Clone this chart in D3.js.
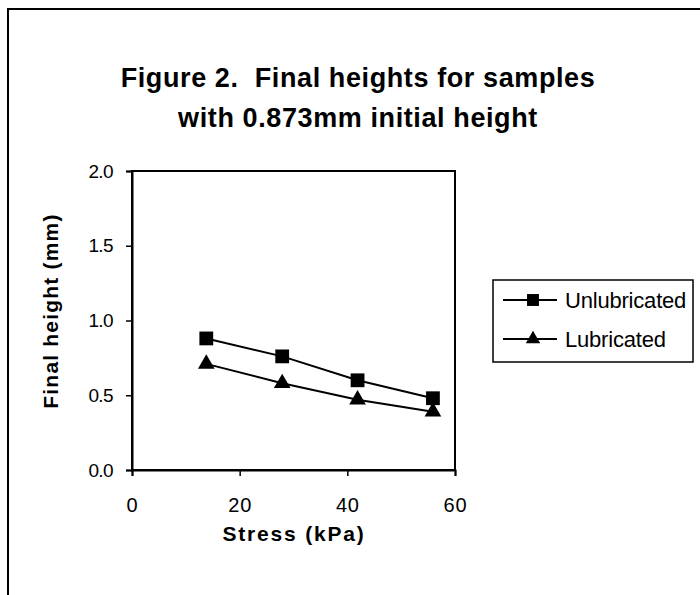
<!DOCTYPE html>
<html>
<head>
<meta charset="utf-8">
<script src="https://cdn.jsdelivr.net/npm/d3@7"></script>
<style>
  html, body { margin: 0; padding: 0; background: #fff; }
  svg { display: block; font-family: "Liberation Sans", Arial, sans-serif; }
  .title { white-space: pre; }
</style>
</head>
<body>
<svg id="chart" width="700" height="595"></svg>
<script>
// Stress applied (kPa) and resulting final heights (mm)
const stress = [13.8, 27.9, 41.9, 55.9];
const unlubricated = [0.88, 0.76, 0.60, 0.48];
const lubricated = [0.71, 0.58, 0.47, 0.39];
const seriesNames = ["Unlubricated", "Lubricated"];
const xTicks = [0, 20, 40, 60];
const yTicks = [0.0, 0.5, 1.0, 1.5, 2.0];
const titleLines = ["Figure 2.  Final heights for samples", "with 0.873mm initial height"];

const svg = d3.select("#chart");

// Outer chart frame (runs off the right and bottom edges)
svg.append("rect")
  .attr("x", 8).attr("y", 9)
  .attr("width", 720).attr("height", 620)
  .attr("fill", "#fff").attr("stroke", "#000").attr("stroke-width", 2);

const plot = { left: 132, top: 171, right: 455, bottom: 470 };

const x = d3.scaleLinear().domain([0, 60]).range([plot.left, plot.right]);
const y = d3.scaleLinear().domain([0, 2]).range([plot.bottom, plot.top]);

// Title
svg.append("g").selectAll("text")
  .data(titleLines)
  .join("text")
  .attr("class", "title")
  .attr("x", 358)
  .attr("y", (d, i) => 87 + i * 40)
  .attr("text-anchor", "middle")
  .attr("font-size", 27)
  .attr("font-weight", "bold")
  .attr("letter-spacing", 0.6)
  .text(d => d);

// Plot area border
svg.append("rect")
  .attr("x", plot.left).attr("y", plot.top)
  .attr("width", plot.right - plot.left).attr("height", plot.bottom - plot.top)
  .attr("fill", "none").attr("stroke", "#000").attr("stroke-width", 2);

// Axes
const yAxis = d3.axisLeft(y).tickValues(yTicks).tickFormat(d3.format(".1f")).tickSize(6).tickPadding(13);
const xAxis = d3.axisBottom(x).tickValues(xTicks).tickFormat(d3.format("d")).tickSize(6).tickPadding(22);

const gy = svg.append("g").attr("transform", `translate(${plot.left},0)`).call(yAxis);
const gx = svg.append("g").attr("transform", `translate(0,${plot.bottom})`).call(xAxis);

[gy, gx].forEach(g => {
  g.select(".domain").attr("stroke-width", 2);
  g.selectAll(".tick line").attr("stroke-width", 1.5);
  g.selectAll(".tick text")
    .attr("font-family", "'Liberation Sans', Arial, sans-serif")
    .attr("fill", "#000");
});
gx.selectAll(".tick text").attr("font-size", 20).attr("letter-spacing", 0.8);
gy.selectAll(".tick text").attr("font-size", 19).attr("letter-spacing", -0.6);

// Axis titles
svg.append("text")
  .attr("x", 294).attr("y", 541)
  .attr("text-anchor", "middle")
  .attr("font-size", 21).attr("font-weight", "bold")
  .attr("letter-spacing", 1.8)
  .text("Stress (kPa)");

svg.append("text")
  .attr("transform", "translate(58,311) rotate(-90)")
  .attr("text-anchor", "middle")
  .attr("font-size", 21).attr("font-weight", "bold")
  .attr("letter-spacing", 1.2)
  .text("Final height (mm)");

// Series
const series = [
  { name: seriesNames[0], values: unlubricated, symbol: d3.symbolSquare, size: 190 },
  { name: seriesNames[1], values: lubricated, symbol: d3.symbolTriangle, size: 120 }
];

const line = d3.line().x(d => x(d[0])).y(d => y(d[1]));

series.forEach(s => {
  const pts = stress.map((v, i) => [v, s.values[i]]);
  svg.append("path")
    .attr("d", line(pts))
    .attr("fill", "none").attr("stroke", "#000").attr("stroke-width", 2);
  svg.append("g").selectAll("path")
    .data(pts)
    .join("path")
    .attr("transform", d => `translate(${x(d[0])},${y(d[1])})`)
    .attr("d", d3.symbol().type(s.symbol).size(s.size))
    .attr("fill", "#000");
});

// Legend
const legend = svg.append("g");
legend.append("rect")
  .attr("x", 493).attr("y", 280).attr("width", 200).attr("height", 82)
  .attr("fill", "#fff").attr("stroke", "#000").attr("stroke-width", 1.5);

series.forEach((s, i) => {
  const ly = 300 + i * 39;
  legend.append("line")
    .attr("x1", 503).attr("x2", 557).attr("y1", ly).attr("y2", ly)
    .attr("stroke", "#000").attr("stroke-width", 2);
  legend.append("path")
    .attr("transform", `translate(533,${ly})`)
    .attr("d", d3.symbol().type(s.symbol).size(s.size * 0.75))
    .attr("fill", "#000");
  legend.append("text")
    .attr("x", 565).attr("y", ly + 8)
    .attr("font-size", 22)
    .attr("letter-spacing", -0.2)
    .text(s.name);
});
</script>
</body>
</html>
